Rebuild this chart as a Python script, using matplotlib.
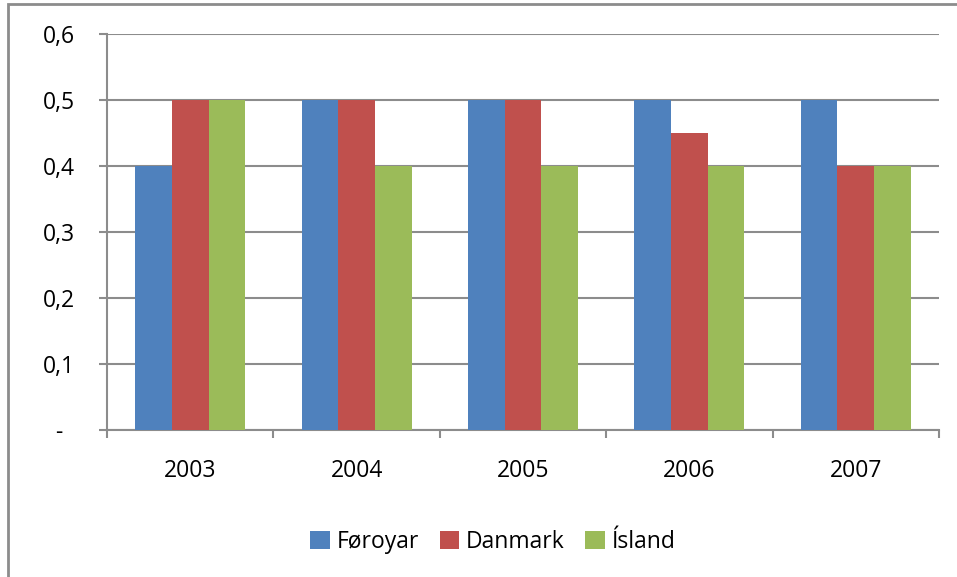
import matplotlib
matplotlib.use("Agg")
import matplotlib.pyplot as plt
from matplotlib.patches import Rectangle
from matplotlib.ticker import FixedLocator
import numpy as np

years = ["2003", "2004", "2005", "2006", "2007"]
series_names = ["Føroyar", "Danmark", "Ísland"]
foroyar = [0.4, 0.5, 0.5, 0.5, 0.5]
danmark = [0.5, 0.5, 0.5, 0.45, 0.4]
island = [0.5, 0.4, 0.4, 0.4, 0.4]
colors = ["#4F81BD", "#C0504D", "#9BBB59"]
yticks = [0, 0.1, 0.2, 0.3, 0.4, 0.5, 0.6]
ytick_labels = ["-  ", "0,1", "0,2", "0,3", "0,4", "0,5", "0,6"]

plt.rcParams['font.family'] = ['Open Sans', 'DejaVu Sans']

fig = plt.figure(figsize=(9.57, 5.77), dpi=100)
W, H = 957, 577
ax = fig.add_axes([107 / W, 1 - 430 / H, (939 - 107) / W, (430 - 34) / H])

grid_c = "#8C8C8C"
x = np.arange(len(years))
bw = 0.22
for i, (vals, name) in enumerate(zip([foroyar, danmark, island], series_names)):
    ax.bar(x + (i - 1) * bw, vals, width=bw, color=colors[i], label=name, zorder=3)

ax.set_xlim(-0.5, len(years) - 0.5)
ax.set_ylim(0, 0.6)
ax.set_yticks(yticks)
ax.set_yticklabels(ytick_labels)
ax.set_xticks(x)
ax.set_xticklabels(years)
ax.xaxis.set_minor_locator(FixedLocator(np.arange(-0.5, len(years), 1.0)))
ax.tick_params(axis='x', which='major', length=0, pad=21, labelsize=16.5, labelcolor="black")
ax.tick_params(axis='x', which='minor', length=6, width=1.5, color=grid_c, direction='out')
ax.tick_params(axis='y', length=6, width=1.5, color=grid_c, pad=17, labelsize=16.5, labelcolor="black")
ax.yaxis.grid(True, color=grid_c, linewidth=1.5, zorder=0)
ax.set_axisbelow(True)
for s in ["top", "right"]:
    ax.spines[s].set_visible(False)
for s in ["left", "bottom"]:
    ax.spines[s].set_color(grid_c)
    ax.spines[s].set_linewidth(1.5)

leg = fig.legend(loc='center', bbox_to_anchor=(493 / W, 1 - 542 / H), ncol=3, frameon=False,
                 fontsize=16.5, handlelength=0.85, handleheight=0.85, handletextpad=0.3,
                 columnspacing=0.9)

fig.patches.append(Rectangle((8 / W, -0.1), 1.2, 1 - 4 / H + 0.1, transform=fig.transFigure,
                             fill=False, edgecolor="#8C8C8C", linewidth=2))

fig.savefig("out.png", dpi=100)
